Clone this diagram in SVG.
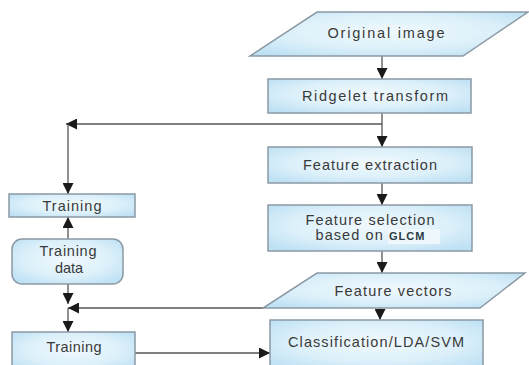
<svg xmlns="http://www.w3.org/2000/svg" width="529" height="365" viewBox="0 0 529 365">
<defs>
<radialGradient id="fillg" cx="50%" cy="45%" r="65%">
<stop offset="0" stop-color="#f0f9fd"/>
<stop offset="0.6" stop-color="#dcf0fa"/>
<stop offset="1" stop-color="#bfe1f4"/>
</radialGradient>
<marker id="ah" viewBox="0 0 10 10" refX="10" refY="5" markerWidth="11" markerHeight="11" markerUnits="userSpaceOnUse" orient="auto">
<path d="M0,0 L10,5 L0,10 Z" fill="#1a1a1a"/>
</marker>
<style>
.box{fill:url(#fillg);stroke:#8a99a4;stroke-width:1.5}
.lbl{font-family:"Liberation Sans",Arial,sans-serif;font-size:14.5px;fill:#3a3a3a;text-anchor:middle}
.la{stroke:#555;stroke-width:1.3;fill:none;marker-end:url(#ah)}
</style>
</defs>
<rect width="529" height="365" fill="#fff"/>
<g id="connectors">
<line class="la" x1="382" y1="56" x2="382" y2="79"/>
<line class="la" x1="382" y1="113" x2="382" y2="147"/>
<line class="la" x1="382" y1="124" x2="66" y2="124"/>
<line class="la" x1="68" y1="124" x2="68" y2="194"/>
<line class="la" x1="382" y1="183" x2="382" y2="205"/>
<line class="la" x1="68" y1="239" x2="68" y2="217"/>
<line class="la" x1="382" y1="251" x2="382" y2="273"/>
<line class="la" x1="68" y1="284" x2="68" y2="304"/>
<line class="la" x1="263" y1="308" x2="68" y2="308"/>
<line class="la" x1="68" y1="308" x2="68" y2="332"/>
<line class="la" x1="380" y1="308" x2="380" y2="320"/>
<line class="la" x1="135" y1="353" x2="270" y2="353"/>
</g>
<g id="original-image">
<polygon class="box" points="317,12 528,12 463,56 250,56"/>
<text class="lbl" x="386" y="38" textLength="117" lengthAdjust="spacing">Original image</text>
</g>
<g id="ridgelet-transform">
<rect class="box" x="268" y="79" width="203" height="34"/>
<text class="lbl" x="375" y="101" textLength="146" lengthAdjust="spacing">Ridgelet transform</text>
</g>
<g id="feature-extraction">
<rect class="box" x="268" y="147" width="204" height="36"/>
<text class="lbl" x="370" y="170" textLength="134" lengthAdjust="spacing">Feature extraction</text>
</g>
<g id="feature-selection">
<rect class="box" x="268" y="205" width="204" height="46"/>
<rect x="388" y="229" width="52" height="15" fill="#eef8fc"/>
<text class="lbl" x="370" y="225" textLength="129" lengthAdjust="spacing">Feature selection</text>
<text class="lbl" x="370" y="240" textLength="109" lengthAdjust="spacing">based on <tspan font-size="11" font-weight="bold" fill="#2a3a44">GLCM</tspan></text>
</g>
<g id="feature-vectors">
<polygon class="box" points="317,273 525,273 480,308 263,308"/>
<text class="lbl" x="393" y="296" textLength="117" lengthAdjust="spacing">Feature vectors</text>
</g>
<g id="classification">
<rect class="box" x="270" y="320" width="213" height="50"/>
<text class="lbl" x="376" y="347" textLength="176" lengthAdjust="spacing">Classification/LDA/SVM</text>
</g>
<g id="training-top">
<rect class="box" x="9" y="194" width="126" height="23"/>
<text class="lbl" x="72" y="211" textLength="59" lengthAdjust="spacing">Training</text>
</g>
<g id="training-data">
<rect class="box" x="12" y="239" width="111" height="45" rx="10"/>
<text class="lbl" x="68" y="256" textLength="57" lengthAdjust="spacing">Training</text>
<text class="lbl" x="69" y="273">data</text>
</g>
<g id="training-bottom">
<rect class="box" x="12" y="332" width="123" height="40"/>
<text class="lbl" x="74" y="352" textLength="55" lengthAdjust="spacing">Training</text>
</g>
</svg>
